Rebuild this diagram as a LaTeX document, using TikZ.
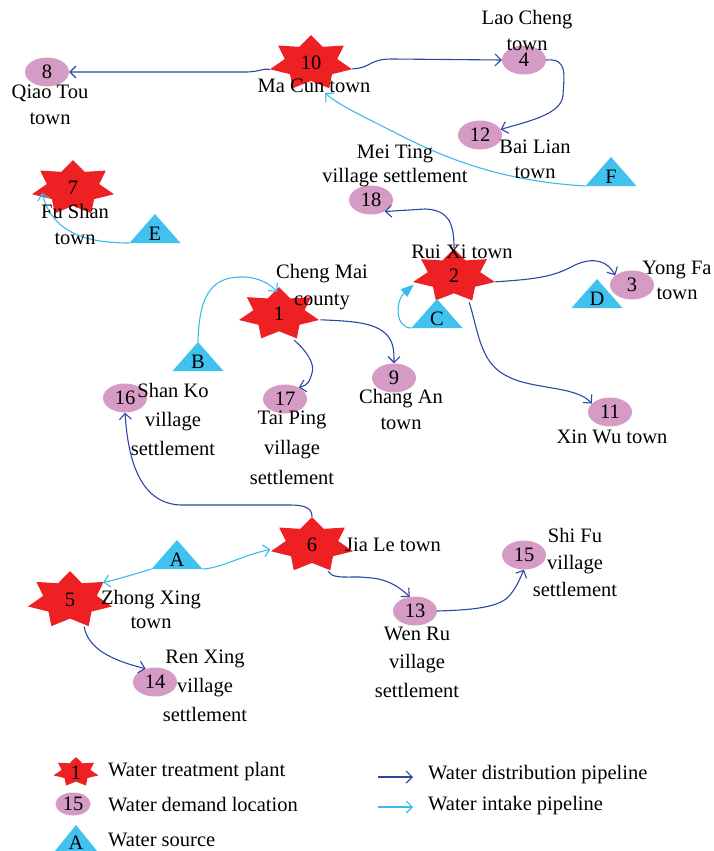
\documentclass[tikz,border=0pt]{standalone}
\usepackage{fontspec}
\setmainfont{Liberation Serif}
\usetikzlibrary{shapes.geometric,arrows.meta}
\definecolor{plantred}{RGB}{237,32,36}
\definecolor{demandpink}{RGB}{213,155,196}
\definecolor{srcblue}{RGB}{65,194,238}
\definecolor{distblue}{RGB}{44,72,160}
\definecolor{intakeblue}{RGB}{60,185,235}
\tikzset{
  lbl/.style={font=\fontsize{20.5}{#1}\selectfont, align=center, inner sep=0pt},
  lbl/.default=26,
  plantnode/.style={ellipse, minimum width=84pt, minimum height=56pt, inner sep=0pt, font=\fontsize{20.5}{24}\selectfont},
  demand/.style={ellipse, fill=demandpink, minimum width=44pt, minimum height=29pt, inner sep=0pt, font=\fontsize{20.5}{24}\selectfont},
  dist/.style={draw=distblue, line width=1.1pt, -{Straight Barb[length=6pt,width=12pt]}},
  intake/.style={draw=intakeblue, line width=1.1pt, -{Straight Barb[length=6pt,width=12pt]}},
}
\newcommand\plantstar[4]{%
  \fill[plantred, shift={(#1,#2)}, xscale=#3, yscale=#4] (270:1)
    \foreach \k in {1,...,13}{ -- ({270+\k*180/7}:{1-0.36*mod(\k,2)}) } -- cycle;
}
\newcommand\watersrc[6]{% name, x, ybase, letter, half width, height
  \coordinate (#1-l) at ({#2-#5},#3);
  \coordinate (#1-r) at ({#2+#5},#3);
  \coordinate (#1-t) at (#2,{#3-#6});
  \fill[srcblue] (#1-l) -- (#1-r) -- (#1-t) -- cycle;
  \node[lbl] (#1) at (#2,{#3-0.33*#6}) {#4};
}
\begin{document}
\begin{tikzpicture}[x=1pt,y=-1pt]
\useasboundingbox (0,0) rectangle (713,851);

% treatment plants
\plantstar{311}{63}{42}{28}
\plantstar{73}{188}{42}{28}
\plantstar{454}{276}{42}{27}
\plantstar{279}{314}{41}{27}
\plantstar{312}{545}{42}{28}
\plantstar{70}{600}{43}{29}
\node[plantnode] (p10) at (311,63) {10};
\node[plantnode] (p7) at (73,188) {7};
\node[plantnode] (p2) at (454,276) {2};
\node[plantnode] (p1) at (279,314) {1};
\node[plantnode] (p6) at (312,545) {6};
\node[plantnode] (p5) at (70,600) {5};

% demand locations
\node[demand] (d8) at (47,72) {8};
\node[demand] (d4) at (524,60) {4};
\node[demand] (d12) at (480,135) {12};
\node[demand] (d18) at (371,200) {18};
\node[demand] (d3) at (632,285) {3};
\node[demand] (d11) at (610,412) {11};
\node[demand] (d9) at (394,378) {9};
\node[demand] (d16) at (125,398) {16};
\node[demand] (d17) at (285,399) {17};
\node[demand] (d14) at (155,682) {14};
\node[demand] (d13) at (415,611) {13};
\node[demand] (d15) at (524,555) {15};

% water sources
\watersrc{sF}{611}{186}{F}{25.5}{29}
\watersrc{sE}{155}{243}{E}{25.5}{29}
\watersrc{sD}{597}{308}{D}{25.5}{29}
\watersrc{sC}{437}{328}{C}{25.5}{29}
\watersrc{sB}{198}{371}{B}{25.5}{29}
\watersrc{sA}{177}{569}{A}{25.5}{29}

% free ends
\coordinate (p10in) at (325,93);
\coordinate (p7in) at (42,193);
\coordinate (p1in) at (277,292);

% distribution pipelines
\draw[dist] (p10.189) .. controls (262,68) and (260,72) .. (245,72) -- (d8.east);
\draw[dist] (p10.-8) .. controls (372,68) and (368,59) .. (392,59) -- (d4.west);
\draw[dist] (d4.east) .. controls (568,58) and (564,75) .. (563,95) .. controls (562,115) and (525,122) .. (d12.15);
\draw[dist] (p2.north) .. controls (454,222) and (448,210) .. (425,209) -- (d18.-40);
\draw[dist] (p2.-8) .. controls (540,279) and (555,276) .. (575,265) .. controls (595,256) and (608,262) .. (d3.150);
\draw[dist] (p2.-60) .. controls (478,330) and (480,362) .. (505,375) .. controls (530,390) and (575,385) .. (d11.155);
\draw[dist] (p1.-8) .. controls (350,321) and (375,322) .. (387,335) .. controls (394,343) and (394,352) .. (d9.north);
\draw[dist] (p1.-60) .. controls (308,352) and (315,365) .. (312,373) .. controls (310,380) and (309,385) .. (d17.40);
\draw[dist] (p6.north) .. controls (312,508) and (305,505) .. (290,505) -- (180,505) .. controls (140,503) and (128,460) .. (d16.south);
\draw[dist] (p6.-58) .. controls (332,578) and (340,577) .. (360,577) -- (372,578) .. controls (390,580) and (400,588) .. (d13.110);
\draw[dist] (d13.east) .. controls (470,610) and (500,608) .. (510,595) .. controls (518,585) and (520,578) .. (d15.south);
\draw[dist] (p5.-62) .. controls (88,648) and (110,660) .. (d14.125);

% intake pipelines
\draw[intake] (sF-l) .. controls (480,180) and (420,145) .. (380,125) .. controls (350,110) and (335,102) .. (p10in);
\draw[intake] (sE-l) .. controls (85,243) and (52,232) .. (p7in);
\draw[intake] (sB-t) .. controls (199,290) and (215,276) .. (245,277) .. controls (262,278) and (272,286) .. (p1in);
\draw[intake, -{Triangle[length=13pt,width=10pt]}] (sC-l) .. controls (394,328) and (396,300) .. (p2.192);
\draw[intake] (sA-l) .. controls (135,574) and (115,580) .. (p5.28);
\draw[intake] (sA-r) .. controls (222,568) and (240,556) .. (p6.186);

% labels
\node[lbl] (l8) at (50,105) {Qiao Tou\\town};
\node[lbl] (l10) at (314,86) {Ma Cun town};
\node[lbl] (l4) at (527,30) {Lao Cheng\\town};
\node[lbl=25] (l12) at (535,159) {Bai Lian\\town};
\node[lbl=24] (l18) at (395,166) {Mei Ting\\village settlement};
\node[lbl] (l2) at (462,252) {Rui Xi town};
\node[lbl=25] (l3) at (677,280) {Yong Fa\\town};
\node[lbl] (l11) at (612,437) {Xin Wu town};
\node[lbl=27] (l1) at (322,287) {Cheng Mai\\county};
\node[lbl=29] (l16) at (173,419) {Shan Ko\\village\\settlement};
\node[lbl=30] (l17) at (292,448) {Tai Ping\\village\\settlement};
\node[lbl] (l9) at (401,409) {Chang An\\town};
\node[lbl] (l7) at (75,224) {Fu Shan\\town};
\node[lbl] (l6) at (393,545) {Jia Le town};
\node[lbl=24] (l5) at (151,609) {Zhong Xing\\town};
\node[lbl=29] (l14) at (205,686) {Ren Xing\\village\\settlement};
\node[lbl=28.5] (l13) at (417,662) {Wen Ru\\village\\settlement};
\node[lbl=27] (l15) at (575,562) {Shi Fu\\village\\settlement};

% legend
\plantstar{76}{772}{23}{15}
\node[lbl] (lg1) at (76,773) {1};
\node[demand, minimum width=35pt, minimum height=23pt] (lg2) at (73,804) {15};
\watersrc{lg3}{76}{851}{A}{21}{26}
\node[lbl, anchor=west] (lt1) at (108,772) {Water treatment plant};
\node[lbl, anchor=west] (lt2) at (108,805) {Water demand location};
\node[lbl, anchor=west] (lt3) at (108,840) {Water source};
\coordinate (lda) at (378,777);
\coordinate (ldb) at (413,777);
\coordinate (lia) at (378,807);
\coordinate (lib) at (413,807);
\draw[dist] (lda) -- (ldb);
\draw[intake] (lia) -- (lib);
\node[lbl, anchor=west] (lt4) at (428,775) {Water distribution pipeline};
\node[lbl, anchor=west] (lt5) at (428,806) {Water intake pipeline};
\end{tikzpicture}
\end{document}
